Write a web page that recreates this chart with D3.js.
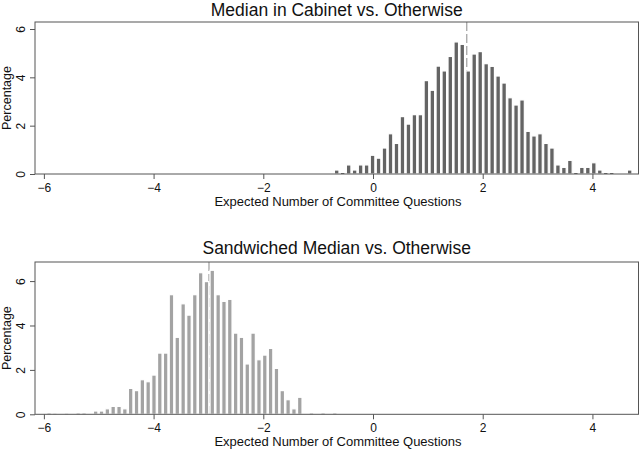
<!DOCTYPE html>
<html>
<head>
<meta charset="utf-8">
<script src="https://cdn.jsdelivr.net/npm/d3@7"></script>
<style>
  html, body { margin: 0; padding: 0; background: #fff; }
  svg { display: block; font-family: "Liberation Sans", Arial, Helvetica, sans-serif; }
</style>
</head>
<body>
<svg id="chart" width="640" height="449"></svg>
<script>
// ---------- DATA ----------
const topTitle = "Median in Cabinet vs. Otherwise";
const bottomTitle = "Sandwiched Median vs. Otherwise";
const xTitle = "Expected Number of Committee Questions";
const yTitle = "Percentage";
const xTicks = [-6, -4, -2, 0, 2, 4];
const yTicks = [0, 2, 4, 6];

// Top panel: bin centers and percentages
const topBins = [-0.662, -0.553, -0.444, -0.335, -0.226, -0.117, -0.008, 0.101, 0.210, 0.319,
  0.428, 0.537, 0.646, 0.755, 0.864, 0.973, 1.082, 1.191, 1.300, 1.409,
  1.518, 1.627, 1.736, 1.845, 1.954, 2.063, 2.172, 2.281, 2.390, 2.499,
  2.608, 2.717, 2.826, 2.935, 3.044, 3.153, 3.262, 3.371, 3.480, 3.589,
  3.698, 3.807, 3.916, 4.025, 4.134, 4.243, 4.352, 4.461, 4.570, 4.679];
const topValues = [0.14, 0.04, 0.35, 0.14, 0.35, 0.35, 0.75, 0.63, 1.05, 1.64,
  1.24, 2.35, 2.04, 2.43, 2.43, 3.84, 3.44, 4.44, 4.24, 4.84,
  5.44, 5.34, 4.24, 4.94, 5.04, 4.54, 4.43, 4.03, 3.74, 3.13,
  2.83, 3.04, 1.74, 1.55, 1.64, 1.24, 1.05, 0.35, 0.25, 0.54,
  0.04, 0.25, 0.25, 0.44, 0.14, 0.04, 0.04, 0, 0, 0.14];
const topBinWidth = 0.109;
const topMedian = 1.71;

// Bottom panel: bin centers and percentages
const bottomBins = [-5.906, -5.800, -5.693, -5.587, -5.481, -5.375, -5.268, -5.162, -5.056, -4.949,
  -4.843, -4.737, -4.630, -4.524, -4.418, -4.311, -4.205, -4.099, -3.993, -3.887,
  -3.780, -3.674, -3.568, -3.461, -3.355, -3.249, -3.142, -3.036, -2.930, -2.823,
  -2.717, -2.611, -2.504, -2.398, -2.292, -2.186, -2.079, -1.973, -1.867, -1.760,
  -1.654, -1.548, -1.441, -1.335, -1.229, -1.122, -1.016, -0.910, -0.803, -0.697];
const bottomValues = [0.03, 0.02, 0, 0.02, 0, 0.03, 0.03, 0, 0.12, 0.12,
  0.22, 0.33, 0.33, 0.22, 1.14, 1.04, 1.53, 1.44, 1.74, 2.73,
  2.73, 5.36, 3.44, 4.95, 4.44, 5.36, 6.35, 5.95, 6.46, 5.36,
  5.06, 5.15, 3.63, 3.44, 2.24, 3.63, 2.43, 2.64, 2.94, 2.04,
  1.04, 0.63, 0.22, 0.74, 0, 0.03, 0, 0.03, 0, 0.03];
const bottomBinWidth = 0.1063;
const bottomMedian = -2.99;

// ---------- DRAW ----------
const svg = d3.select("#chart");
const FONT = "Liberation Sans, Arial, sans-serif";

function panel(cfg) {
  const x = d3.scaleLinear().domain([-6.162, 4.84]).range([35, 638.5]);
  const y = d3.scaleLinear().domain([0, cfg.ymax]).range([cfg.bottom, cfg.top]);
  const g = svg.append("g");

  // title
  g.append("text")
    .attr("x", 336.7).attr("y", cfg.titleY)
    .attr("text-anchor", "middle")
    .attr("font-size", 17.5)
    .attr("fill", "#111")
    .text(cfg.title);

  // median dashed line (behind bars)
  g.append("line")
    .attr("x1", x(cfg.median)).attr("x2", x(cfg.median))
    .attr("y1", cfg.top).attr("y2", cfg.bottom)
    .attr("stroke", "#8a8a8a").attr("stroke-width", 1)
    .attr("stroke-dasharray", "9,3");

  // bars (white border like the original)
  const data = cfg.bins.map((b, i) => ({ c: b, v: cfg.values[i] }));
  const bw = Math.abs(x(cfg.binWidth) - x(0)) * 0.56;
  const sw = 1.2;
  g.selectAll("rect.bar").data(data.filter(d => d.v > 0.1)).enter().append("rect")
    .attr("class", "bar")
    .attr("x", d => x(d.c) - bw / 2 - sw / 2)
    .attr("width", bw + sw)
    .attr("y", d => y(d.v) - sw / 2)
    .attr("height", d => y(0) - y(d.v) + sw / 2)
    .attr("fill", cfg.color)
    .attr("stroke", "#fff").attr("stroke-width", sw);
  // tiny bars (near zero) without border
  g.selectAll("rect.tiny").data(data.filter(d => d.v > 0 && d.v <= 0.1)).enter().append("rect")
    .attr("class", "tiny")
    .attr("x", d => x(d.c) - bw / 2)
    .attr("width", bw)
    .attr("y", d => y(d.v))
    .attr("height", d => y(0) - y(d.v))
    .attr("fill", cfg.color);

  // frame
  g.append("rect")
    .attr("x", 35).attr("y", cfg.top)
    .attr("width", 638.5 - 35).attr("height", cfg.bottom - cfg.top)
    .attr("fill", "none").attr("stroke", "#555").attr("stroke-width", 1);

  // x axis
  const xa = g.append("g").attr("transform", `translate(0,${cfg.bottom})`)
    .call(d3.axisBottom(x).tickValues(xTicks).tickSize(5).tickPadding(4).tickFormat(d3.format("d")));
  xa.select(".domain").remove();
  xa.selectAll(".tick line").attr("stroke", "#555");
  xa.selectAll(".tick text").attr("font-size", 12).attr("fill", "#111")
    .attr("font-family", FONT);

  // y axis
  const ya = g.append("g").attr("transform", "translate(35,0)")
    .call(d3.axisLeft(y).tickValues(yTicks).tickSize(5).tickFormat(d3.format("d")));
  ya.select(".domain").remove();
  ya.selectAll(".tick line").attr("stroke", "#555");
  ya.selectAll(".tick text")
    .attr("font-size", 12).attr("fill", "#111")
    .attr("font-family", FONT)
    .attr("transform", "rotate(-90)")
    .attr("x", 0).attr("y", -10).attr("dy", 0)
    .attr("text-anchor", "middle");

  // axis titles
  g.append("text")
    .attr("x", 338).attr("y", cfg.xTitleY)
    .attr("text-anchor", "middle").attr("font-size", 13).attr("fill", "#111")
    .text(xTitle);
  g.append("text")
    .attr("transform", `translate(10.5,${(cfg.top + cfg.bottom) / 2}) rotate(-90)`)
    .attr("text-anchor", "middle").attr("font-size", 12.5).attr("fill", "#111")
    .text(yTitle);
}

panel({ title: topTitle, titleY: 16, top: 22, bottom: 174, ymax: 6.29,
  bins: topBins, values: topValues, binWidth: topBinWidth, median: topMedian,
  color: "#646464", xTitleY: 206 });
panel({ title: bottomTitle, titleY: 254, top: 262, bottom: 414.3, ymax: 6.86,
  bins: bottomBins, values: bottomValues, binWidth: bottomBinWidth, median: bottomMedian,
  color: "#a3a3a3", xTitleY: 446 });
</script>
</body>
</html>
